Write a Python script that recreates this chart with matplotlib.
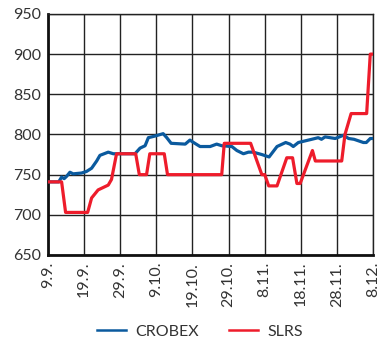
import matplotlib
matplotlib.use('Agg')
import matplotlib.pyplot as plt

plt.rcParams['font.family'] = ['Lato', 'DejaVu Sans']

# days counted from 9.9.
crobex_days = [0, 3, 3.8, 4.5, 5.2, 6.1, 7, 9.3, 10.7, 12.1,
               13.5, 14.4, 16.7, 18.1, 19, 24.1, 25.5, 26.9, 27.8, 28.7,
               29.6, 31.9, 32.9, 34.1, 38, 39.3, 40.3, 42.1, 44.9, 46.7,
               48.1, 50.9, 52.3, 54.1, 55.5, 56.8, 59.2, 61.2, 63.4, 65.8,
               67, 67.9, 69.3, 73, 74.8, 75.7, 76.7, 79.5, 81.8, 83.2,
               84.7, 87.3, 88.1, 89.2, 90]
crobex_vals = [741, 741, 747, 745, 748, 753, 751, 752, 754, 758,
               767, 774, 778, 776, 776, 776, 783, 786, 796, 797,
               798, 801, 796, 789, 788, 793, 790, 785, 785, 788,
               786, 785, 780, 776, 778, 778, 775, 772, 785, 790,
               788, 785, 790, 794, 796, 794, 797, 795, 799, 795,
               794, 790, 790, 795, 795]

slrs_days = [0, 3.8, 4.9, 11, 12.1, 13.9, 16.7, 17.6, 19, 24.3, 25.3, 27.3, 28.2, 32.2,
             33.1, 48.1, 48.8, 56.1, 59.2, 60, 61.1, 63.4, 66.1, 67.7, 68.9, 69.8, 73.2,
             74, 81.3, 82.2, 83.9, 88.2, 89.2, 90]
slrs_vals = [741, 741, 703, 703, 721, 731, 737, 744, 776, 776, 750, 750, 776, 776,
             750, 750, 789, 789, 750, 750, 736, 736, 771, 771, 739, 739, 780,
             767, 767, 800, 826, 826, 900, 900]

tick_days = [0, 10, 20, 30, 40, 50, 60, 70, 80, 90]
tick_labels = ['9.9.', '19.9.', '29.9.', '9.10.', '19.10.', '29.10.', '8.11.',
               '18.11.', '28.11.', '8.12.']
y_ticks = [650, 700, 750, 800, 850, 900, 950]

fig = plt.figure(figsize=(3.8, 3.4), dpi=100)
ax = fig.add_axes([0.126, 0.25, 0.856, 0.709])

ax.plot(crobex_days, crobex_vals, color='#0b5a9e', lw=2.3, label='CROBEX',
        solid_joinstyle='round', zorder=3)
ax.plot(slrs_days, slrs_vals, color='#ee1c2b', lw=2.3, label='SLRS',
        solid_joinstyle='round', zorder=4)

ax.set_xlim(0, 90)
ax.set_ylim(650, 950)
ax.set_xticks(tick_days)
ax.set_xticklabels(tick_labels, rotation=90)
ax.set_yticks(y_ticks)
ax.grid(True, color='#222222', lw=1.0)
ax.set_axisbelow(True)
ax.tick_params(length=0, labelsize=11.5, colors='#333333', pad=5)
ax.tick_params(axis='x', pad=5)

for side in ['top', 'right']:
    ax.spines[side].set_linewidth(1.0)
    ax.spines[side].set_color('#222222')
for side in ['left', 'bottom']:
    ax.spines[side].set_linewidth(2.0)
    ax.spines[side].set_color('#111111')

leg = fig.legend(loc='center', bbox_to_anchor=(0.527, 0.024), ncol=2, frameon=False,
                 fontsize=11.5, handlelength=1.8, handletextpad=0.6,
                 columnspacing=1.9, labelcolor='#333333', borderpad=0)
for line in leg.get_lines():
    line.set_linewidth(1.8)

fig.savefig('out.png', dpi=100)
